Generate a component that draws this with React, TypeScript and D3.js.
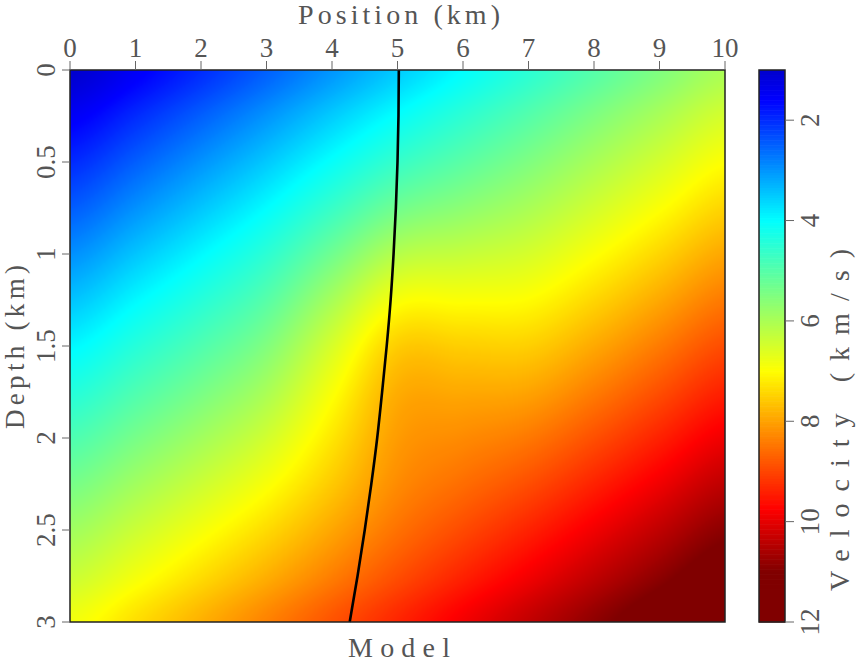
import React, { useMemo } from 'react';
import * as d3 from 'd3';

// ---- axis ticks ----
const positionTicks = [0, 1, 2, 3, 4, 5, 6, 7, 8, 9, 10];
const depthTicks = [0, 0.5, 1, 1.5, 2, 2.5, 3];
const depthTickLabels = ['0', '0.5', '1', '1.5', '2', '2.5', '3'];
const velocityTicks = [2, 4, 6, 8, 10, 12];

// ---- velocity model samples (km/s) ----
const gridX = [0, 1, 2, 3, 4, 5, 6, 7, 8, 9, 10];
const gridZ = [0, 0.25, 0.5, 0.75, 1, 1.25, 1.5, 1.75, 2, 2.25, 2.5, 2.75, 3];
const velocityRows = [
  [1.0, 1.5, 2.0, 2.5, 3.01, 3.51, 4.01, 4.5, 5.0, 5.5, 6.0],
  [1.49, 1.99, 2.49, 2.99, 3.52, 4.04, 4.52, 4.99, 5.49, 5.99, 6.49],
  [1.98, 2.48, 2.98, 3.49, 4.06, 4.63, 5.06, 5.49, 5.98, 6.48, 6.98],
  [2.46, 2.96, 3.46, 3.99, 4.65, 5.32, 5.65, 5.99, 6.46, 6.96, 7.46],
  [2.95, 3.45, 3.95, 4.51, 5.31, 6.12, 6.31, 6.51, 6.95, 7.45, 7.95],
  [3.44, 3.94, 4.44, 5.02, 5.96, 6.91, 6.96, 7.02, 7.44, 7.94, 8.44],
  [3.93, 4.43, 4.93, 5.52, 6.52, 7.53, 7.52, 7.52, 7.93, 8.43, 8.93],
  [4.41, 4.91, 5.41, 5.99, 6.93, 7.88, 7.93, 7.99, 8.41, 8.91, 9.41],
  [4.9, 5.4, 5.9, 6.46, 7.26, 8.07, 8.26, 8.46, 8.9, 9.4, 9.9],
  [5.39, 5.89, 6.39, 6.92, 7.58, 8.25, 8.58, 8.92, 9.39, 9.89, 10.39],
  [5.88, 6.38, 6.88, 7.39, 7.96, 8.53, 8.96, 9.39, 9.88, 10.38, 10.88],
  [6.36, 6.86, 7.36, 7.86, 8.39, 8.91, 9.39, 9.86, 10.36, 10.86, 11.36],
  [6.85, 7.35, 7.85, 8.35, 8.86, 9.36, 9.86, 10.35, 10.85, 11.35, 11.85],
];

// ---- colour map ----
const colorStops = [1, 1.6, 4, 7, 9.75, 11, 12];
const colorValues = ['#0000cd', '#0000ff', '#00ffff', '#ffff00', '#ff0000', '#800000', '#800000'];

// ---- ray path (km) ----
const rayZ = [0, 0.25, 0.5, 0.75, 1, 1.25, 1.5, 1.75, 2, 2.25, 2.5, 2.75, 3];
const rayX = [5.02, 5.015, 5.0, 4.975, 4.94, 4.895, 4.835, 4.765, 4.69, 4.6, 4.5, 4.39, 4.27];

const W = 856;
const H = 663;
const plot = { left: 70, top: 70, width: 655, height: 552 };
const bar = { left: 759, width: 26 };
const FONT = "'Liberation Serif', serif";
const TEXT = '#555555';

function catmull(p0: number, p1: number, p2: number, p3: number, t: number) {
  return 0.5 * (2 * p1 + (-p0 + p2) * t + (2 * p0 - 5 * p1 + 4 * p2 - p3) * t * t + (-p0 + 3 * p1 - 3 * p2 + p3) * t * t * t);
}

function sampleGrid(xk: number, zk: number) {
  const nx = gridX.length, nz = gridZ.length;
  const fx = ((xk - gridX[0]) / (gridX[nx - 1] - gridX[0])) * (nx - 1);
  const fz = ((zk - gridZ[0]) / (gridZ[nz - 1] - gridZ[0])) * (nz - 1);
  const ix = Math.max(0, Math.min(nx - 2, Math.floor(fx)));
  const iz = Math.max(0, Math.min(nz - 2, Math.floor(fz)));
  const tx = fx - ix, tz = fz - iz;
  const cx = (i: number) => Math.max(0, Math.min(nx - 1, i));
  const cz = (i: number) => Math.max(0, Math.min(nz - 1, i));
  const rows: number[] = [];
  for (let k = -1; k <= 2; k++) {
    const r = velocityRows[cz(iz + k)];
    rows.push(catmull(r[cx(ix - 1)], r[cx(ix)], r[cx(ix + 1)], r[cx(ix + 2)], tx));
  }
  return catmull(rows[0], rows[1], rows[2], rows[3], tz);
}

export default function App() {
  const xScale = d3.scaleLinear().domain([0, 10]).range([plot.left, plot.left + plot.width]);
  const yScale = d3.scaleLinear().domain([0, 3]).range([plot.top, plot.top + plot.height]);
  const vScale = d3.scaleLinear().domain([1, 12]).range([plot.top, plot.top + plot.height]);
  const color = d3
    .scaleLinear<string>()
    .domain(colorStops)
    .range(colorValues)
    .interpolate(d3.interpolateRgb)
    .clamp(true);

  const lut = useMemo(() => {
    const n = 1101;
    const out: [number, number, number][] = [];
    for (let i = 0; i < n; i++) {
      const v = 1 + (11 * i) / (n - 1);
      const c = d3.rgb(color(v));
      out.push([c.r, c.g, c.b]);
    }
    return out;
  }, []);

  const imageUrl = useMemo(() => {
    const canvas = document.createElement('canvas');
    canvas.width = plot.width;
    canvas.height = plot.height;
    const ctx = canvas.getContext('2d');
    if (!ctx) return '';
    const img = ctx.createImageData(plot.width, plot.height);
    for (let j = 0; j < plot.height; j++) {
      const zk = yScale.invert(plot.top + j + 0.5);
      for (let i = 0; i < plot.width; i++) {
        const xk = xScale.invert(plot.left + i + 0.5);
        const v = sampleGrid(xk, zk);
        const idx = Math.max(0, Math.min(lut.length - 1, Math.round(((v - 1) / 11) * (lut.length - 1))));
        const c = lut[idx];
        const p = (j * plot.width + i) * 4;
        img.data[p] = c[0];
        img.data[p + 1] = c[1];
        img.data[p + 2] = c[2];
        img.data[p + 3] = 255;
      }
    }
    ctx.putImageData(img, 0, 0);
    return canvas.toDataURL();
  }, []);

  const rayPts: [number, number][] = rayZ.map((z, i) => [xScale(rayX[i]), yScale(z)]);
  const rayPath = d3.line().curve(d3.curveNatural)(rayPts) || '';

  const barSteps = d3.range(1, 12, 0.05);

  return (
    <svg width={W} height={H} style={{ position: 'absolute', left: 0, top: 0, background: '#fff' }}>
      {imageUrl && (
        <image href={imageUrl} x={plot.left} y={plot.top} width={plot.width} height={plot.height} preserveAspectRatio="none" />
      )}
      <path d={rayPath} fill="none" stroke="#000" strokeWidth={2.6} />
      <rect x={plot.left} y={plot.top} width={plot.width} height={plot.height} fill="none" stroke="#222" strokeWidth={1.5} />

      {/* top axis */}
      {positionTicks.map((t) => (
        <g key={'px' + t}>
          <line x1={xScale(t)} x2={xScale(t)} y1={plot.top - 9} y2={plot.top} stroke="#666" strokeWidth={1} />
          <text x={xScale(t)} y={57} textAnchor="middle" fontFamily={FONT} fontSize={27} fill={TEXT}>
            {t}
          </text>
        </g>
      ))}
      <text x={399} y={24} textAnchor="middle" fontFamily={FONT} fontSize={28} fill={TEXT} textLength={202} lengthAdjust="spacing">
        Position (km)
      </text>

      {/* left axis */}
      {depthTicks.map((t, i) => (
        <g key={'dz' + t}>
          <line x1={plot.left - 8} x2={plot.left} y1={yScale(t)} y2={yScale(t)} stroke="#666" strokeWidth={1} />
          <text
            transform={`translate(55,${yScale(t)}) rotate(-90)`}
            textAnchor="middle"
            fontFamily={FONT}
            fontSize={27}
            fill={TEXT}
          >
            {depthTickLabels[i]}
          </text>
        </g>
      ))}
      <text
        transform={`translate(24,347) rotate(-90)`}
        textAnchor="middle"
        fontFamily={FONT}
        fontSize={27}
        fill={TEXT}
        textLength={164}
        lengthAdjust="spacing"
      >
        Depth (km)
      </text>

      {/* colorbar */}
      {barSteps.map((v) => (
        <rect
          key={'cb' + v.toFixed(2)}
          x={bar.left}
          y={vScale(v)}
          width={bar.width}
          height={vScale(v + 0.05) - vScale(v) + 0.6}
          fill={color(v + 0.025)}
        />
      ))}
      <rect x={bar.left} y={plot.top} width={bar.width} height={plot.height} fill="none" stroke="#222" strokeWidth={1.5} />
      {velocityTicks.map((t) => (
        <g key={'vt' + t}>
          <line x1={bar.left + bar.width} x2={bar.left + bar.width + 9} y1={vScale(t)} y2={vScale(t)} stroke="#666" strokeWidth={1} />
          <text
            transform={`translate(819,${vScale(t)}) rotate(-90)`}
            textAnchor="middle"
            fontFamily={FONT}
            fontSize={27}
            fill={TEXT}
          >
            {t}
          </text>
        </g>
      ))}
      <text
        transform={`translate(849,420) rotate(-90)`}
        textAnchor="middle"
        fontFamily={FONT}
        fontSize={28}
        fill={TEXT}
        textLength={342}
        lengthAdjust="spacing"
      >
        Velocity (km/s)
      </text>

      {/* title */}
      <text x={399} y={657} textAnchor="middle" fontFamily={FONT} fontSize={28} fill={TEXT} textLength={102} lengthAdjust="spacing">
        Model
      </text>
    </svg>
  );
}
